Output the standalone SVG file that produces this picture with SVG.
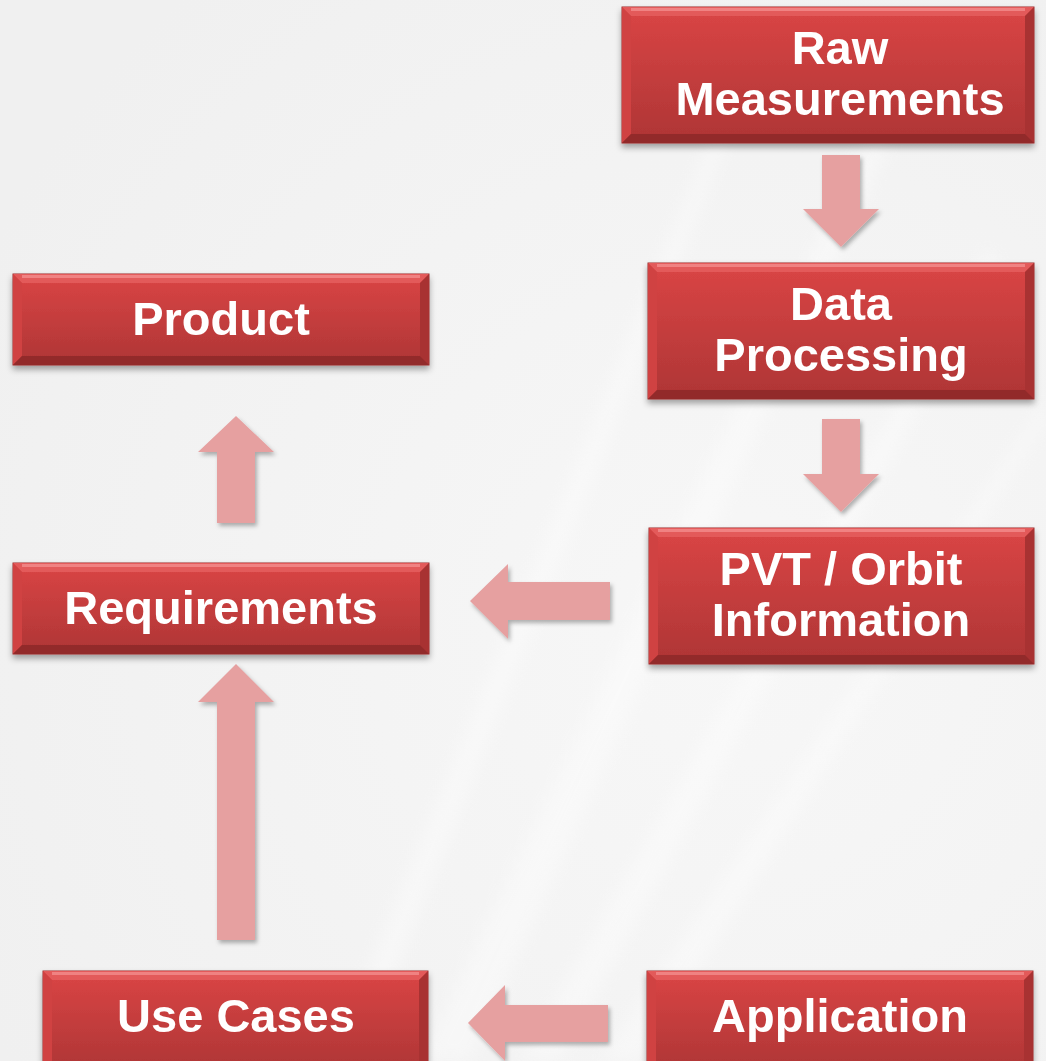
<svg xmlns="http://www.w3.org/2000/svg" width="1046" height="1061" viewBox="0 0 1046 1061">
  <defs>
    <linearGradient id="face" x1="0" y1="0" x2="0" y2="1">
      <stop offset="0" stop-color="#DA4545"/>
      <stop offset="1" stop-color="#AE3535"/>
    </linearGradient>
    <radialGradient id="bg" cx="0.7" cy="0.6" r="0.8">
      <stop offset="0" stop-color="#F7F7F7"/>
      <stop offset="1" stop-color="#F0F0F0"/>
    </radialGradient>
    <filter id="boxShadow" x="-5%" y="-10%" width="110%" height="130%">
      <feDropShadow dx="0" dy="4" stdDeviation="3" flood-color="#000" flood-opacity="0.35"/>
    </filter>
    <filter id="arrowShadow" x="-20%" y="-20%" width="140%" height="140%">
      <feDropShadow dx="2" dy="3" stdDeviation="2" flood-color="#000" flood-opacity="0.3"/>
    </filter>
    <filter id="blurRay"><feGaussianBlur stdDeviation="8"/></filter>
  </defs>
  <style>
    .face { fill: url(#face); stroke: #9C2E2E; stroke-width: 1; }
    .bt { fill: #E35A5A; }
    .bh { fill: #F08282; }
    .bl { fill: #D04343; }
    .br { fill: #A83232; }
    .bb { fill: #922A2A; }
    .lbl { font-family: "Liberation Sans", Arial, sans-serif; font-weight: bold; font-size: 47px; fill: #FFFFFF; text-anchor: middle; }
    .arrow { fill: #E6A0A0; filter: url(#arrowShadow); }
    .ray { fill: #FFFFFF; opacity: 0.35; filter: url(#blurRay); }
  </style>

  <rect x="0" y="0" width="1046" height="1061" fill="url(#bg)"/>
  <g id="background-rays">
    <polygon class="ray" points="420,1061 470,1061 900,120 880,110"/>
    <polygon class="ray" points="520,1061 560,1061 1000,260 985,250"/>
    <polygon class="ray" points="600,1061 640,1061 1046,420 1046,400"/>
    <polygon class="ray" points="330,1061 360,1061 760,60 745,55"/>
  </g>

  <g id="connectors">
    <polygon class="arrow" points="822,155 860,155 860,209 879,209 841,247 803,209 822,209"/>
    <polygon class="arrow" points="822,419 860,419 860,474 879,474 841,512 803,474 822,474"/>
    <polygon class="arrow" points="610,582 508,582 508,564 470,601 508,639 508,620 610,620"/>
    <polygon class="arrow" points="608,1005 505,1005 505,985 468,1023 505,1061 505,1042 608,1042"/>
    <polygon class="arrow" points="217,523 217,452 198,452 236,416 274,452 255,452 255,523"/>
    <polygon class="arrow" points="217,940 217,702 198,702 236,664 274,702 255,702 255,940"/>
  </g>

  <g id="node-raw" filter="url(#boxShadow)">
    <rect class="face" x="622" y="7" width="412" height="136"/>
    <polygon class="bt" points="622,7 1034,7 1025,16 631,16"/>
    <rect class="bh" x="631" y="8" width="394" height="3"/>
    <polygon class="bl" points="622,7 631,16 631,134 622,143"/>
    <polygon class="br" points="1034,7 1025,16 1025,134 1034,143"/>
    <polygon class="bb" points="622,143 631,134 1025,134 1034,143"/>
    <text class="lbl" x="840" y="64">Raw</text>
    <text class="lbl" x="840" y="115">Measurements</text>
  </g>

  <g id="node-data" filter="url(#boxShadow)">
    <rect class="face" x="648" y="263" width="386" height="136"/>
    <polygon class="bt" points="648,263 1034,263 1025,272 657,272"/>
    <rect class="bh" x="657" y="264" width="368" height="3"/>
    <polygon class="bl" points="648,263 657,272 657,390 648,399"/>
    <polygon class="br" points="1034,263 1025,272 1025,390 1034,399"/>
    <polygon class="bb" points="648,399 657,390 1025,390 1034,399"/>
    <text class="lbl" x="841" y="320">Data</text>
    <text class="lbl" x="841" y="371">Processing</text>
  </g>

  <g id="node-pvt" filter="url(#boxShadow)">
    <rect class="face" x="649" y="528" width="385" height="136"/>
    <polygon class="bt" points="649,528 1034,528 1025,537 658,537"/>
    <rect class="bh" x="658" y="529" width="367" height="3"/>
    <polygon class="bl" points="649,528 658,537 658,655 649,664"/>
    <polygon class="br" points="1034,528 1025,537 1025,655 1034,664"/>
    <polygon class="bb" points="649,664 658,655 1025,655 1034,664"/>
    <text class="lbl" x="841" y="585">PVT / Orbit</text>
    <text class="lbl" x="841" y="636">Information</text>
  </g>

  <g id="node-product" filter="url(#boxShadow)">
    <rect class="face" x="13" y="274" width="416" height="91"/>
    <polygon class="bt" points="13,274 429,274 420,283 22,283"/>
    <rect class="bh" x="22" y="275" width="398" height="3"/>
    <polygon class="bl" points="13,274 22,283 22,356 13,365"/>
    <polygon class="br" points="429,274 420,283 420,356 429,365"/>
    <polygon class="bb" points="13,365 22,356 420,356 429,365"/>
    <text class="lbl" x="221" y="335">Product</text>
  </g>

  <g id="node-requirements" filter="url(#boxShadow)">
    <rect class="face" x="13" y="563" width="416" height="91"/>
    <polygon class="bt" points="13,563 429,563 420,572 22,572"/>
    <rect class="bh" x="22" y="564" width="398" height="3"/>
    <polygon class="bl" points="13,563 22,572 22,645 13,654"/>
    <polygon class="br" points="429,563 420,572 420,645 429,654"/>
    <polygon class="bb" points="13,654 22,645 420,645 429,654"/>
    <text class="lbl" x="221" y="624">Requirements</text>
  </g>

  <g id="node-usecases" filter="url(#boxShadow)">
    <rect class="face" x="43" y="971" width="385" height="100"/>
    <polygon class="bt" points="43,971 428,971 419,980 52,980"/>
    <rect class="bh" x="52" y="972" width="367" height="3"/>
    <polygon class="bl" points="43,971 52,980 52,1071 43,1071"/>
    <polygon class="br" points="428,971 419,980 419,1071 428,1071"/>
    <text class="lbl" x="236" y="1032">Use Cases</text>
  </g>

  <g id="node-application" filter="url(#boxShadow)">
    <rect class="face" x="647" y="971" width="386" height="100"/>
    <polygon class="bt" points="647,971 1033,971 1024,980 656,980"/>
    <rect class="bh" x="656" y="972" width="368" height="3"/>
    <polygon class="bl" points="647,971 656,980 656,1071 647,1071"/>
    <polygon class="br" points="1033,971 1024,980 1024,1071 1033,1071"/>
    <text class="lbl" x="840" y="1032">Application</text>
  </g>
</svg>
